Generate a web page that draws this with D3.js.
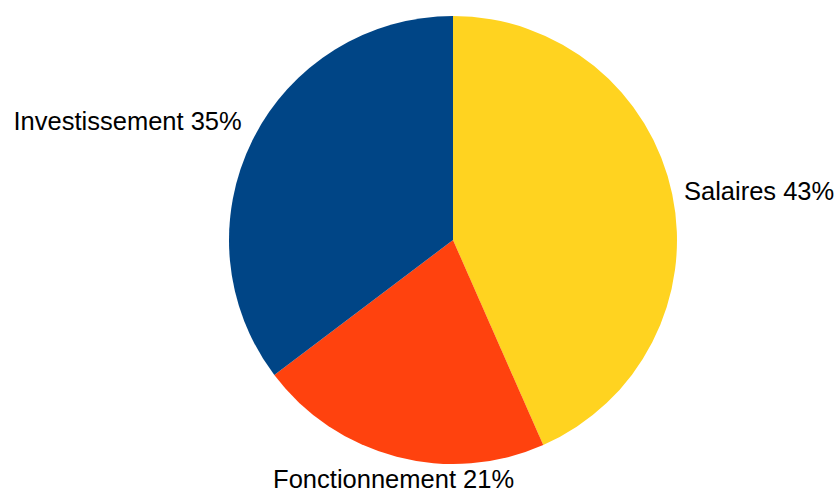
<!DOCTYPE html>
<html lang="fr">
<head>
    <meta charset="UTF-8">
    <title>Répartition du budget</title>
    <script src="https://d3js.org/d3.v7.min.js"></script>
    <style>
        body { margin: 0; background: #fff; }
        svg text { font-family: "Liberation Sans", Arial, sans-serif; font-size: 25.5px; fill: #000; }
    </style>
</head>
<body>
    <svg width="838" height="491"></svg>
    <script>
        // Données du graphique
        const categories = ["Salaires", "Fonctionnement", "Investissement"];
        const values = [43.4, 21.3, 35.3];
        const labels = ["Salaires 43%", "Fonctionnement 21%", "Investissement 35%"];
        const colors = ["#ffd320", "#ff420e", "#004586"];

        const svg = d3.select("svg");
        const cx = 453, cy = 240, radius = 224;

        const data = categories.map((c, i) => ({ name: c, value: values[i], label: labels[i] }));

        const color = d3.scaleOrdinal().domain(categories).range(colors);

        const pie = d3.pie().value(d => d.value).sort(null);
        const arc = d3.arc().innerRadius(0).outerRadius(radius);

        const g = svg.append("g").attr("transform", `translate(${cx},${cy})`);

        const arcs = pie(data);

        g.selectAll("path")
            .data(arcs)
            .enter().append("path")
            .attr("d", arc)
            .attr("fill", d => color(d.data.name));

        // Étiquettes placées selon l'angle médian
        g.selectAll(".label")
            .data(arcs)
            .enter().append("text")
            .attr("class", "label")
            .each(function(d) {
                const a = (d.startAngle + d.endAngle) / 2;
                const s = Math.sin(a), c = Math.cos(a);
                const [x, y] = [(radius + 12) * s, -(radius + 12) * c];
                const anchor = s > 0.3 ? "start" : (s < -0.3 ? "end" : "middle");
                let dy;
                if (c > 0.3) dy = -5;          // texte au-dessus
                else if (c < -0.3) dy = 20;    // texte en dessous
                else dy = 9;                   // centré
                d3.select(this)
                    .attr("x", x)
                    .attr("y", y)
                    .attr("dy", dy)
                    .attr("text-anchor", anchor)
                    .text(d.data.label);
            });
    </script>
</body>
</html>
